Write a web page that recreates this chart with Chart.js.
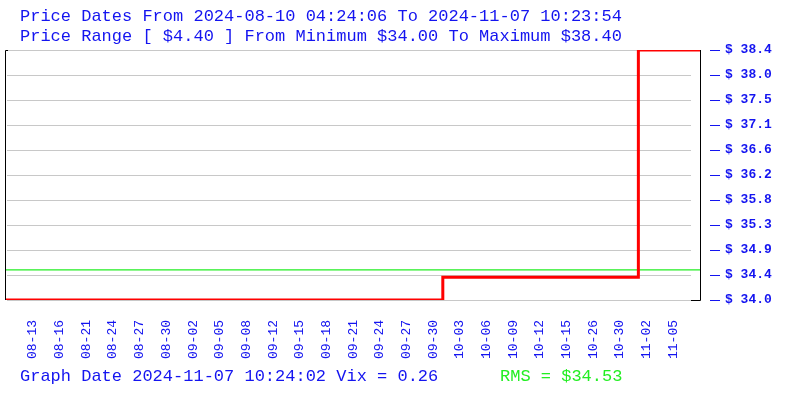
<!DOCTYPE html>
<html>
<head>
<meta charset="utf-8">
<script src="https://cdn.jsdelivr.net/npm/chart.js@4/dist/chart.umd.min.js"></script>
<style>
  html, body { margin: 0; padding: 0; background: #ffffff; }
  #wrap { position: relative; width: 800px; height: 400px; }
</style>
</head>
<body>
<div id="wrap"><canvas id="c" width="800" height="400"></canvas></div>
<script>
// ---- data ----
const titleLine1 = 'Price Dates From 2024-08-10 04:24:06 To 2024-11-07 10:23:54';
const titleLine2 = 'Price Range [ $4.40 ] From Minimum $34.00 To Maximum $38.40';
const footerLeft = 'Graph Date 2024-11-07 10:24:02 Vix = 0.26';
const footerRight = 'RMS = $34.53';

const xLabels = ['08-13','08-16','08-21','08-24','08-27','08-30','09-02','09-05','09-08',
  '09-12','09-15','09-18','09-21','09-24','09-27','09-30','10-03','10-06','10-09',
  '10-12','10-15','10-26','10-30','11-02','11-05'];
const xLabelPositions = [1,2,3,4,5,6,7,8,9,10,11,12,13,14,15,16,17,18,19,20,21,22,23,24,25];

// price steps (x in label-index units)
const priceX = [-0.05, 16.36, 23.69, 26];
const priceY = [34.00, 34.40, 38.40, 38.40];

const rmsValue = 34.53;
const yMin = 34.00;
const yMax = 38.40;
const yTickValues = [34.00, 34.44, 34.88, 35.32, 35.76, 36.20, 36.64, 37.08, 37.52, 37.96, 38.40];
const yTickLabels = ['$ 34.0','$ 34.4','$ 34.9','$ 35.3','$ 35.8','$ 36.2','$ 36.6','$ 37.1','$ 37.5','$ 38.0','$ 38.4'];

const BLUE = '#1414f0';
const GREEN = '#22ee22';
const MONO = '"Liberation Mono", "DejaVu Sans Mono", monospace';

const decor = {
  id: 'decor',
  beforeDatasetsDraw(chart) {
    const ctx = chart.ctx;
    const ys = chart.scales.y;
    const a = chart.chartArea;
    ctx.save();
    ctx.strokeStyle = '#c8c8c8';
    ctx.lineWidth = 1;
    yTickValues.forEach(v => {
      const py = Math.round(ys.getPixelForValue(v)) + 0.5;
      ctx.beginPath();
      ctx.moveTo(a.left + 2, py);
      ctx.lineTo(a.right - 9, py);
      ctx.stroke();
    });
    ctx.restore();
  },
  afterDraw(chart) {
    const ctx = chart.ctx;
    const ys = chart.scales.y;
    const a = chart.chartArea;
    ctx.save();
    // frame
    ctx.strokeStyle = '#000000';
    ctx.lineWidth = 1;
    ctx.beginPath();
    ctx.moveTo(a.left + 0.5, a.bottom);
    ctx.lineTo(a.left + 0.5, a.top + 0.5);
    ctx.lineTo(a.left + 3, a.top + 0.5);
    ctx.stroke();
    ctx.beginPath();
    ctx.moveTo(a.right - 9, a.bottom + 0.5);
    ctx.lineTo(a.right + 0.5, a.bottom + 0.5);
    ctx.lineTo(a.right + 0.5, a.top);
    ctx.stroke();
    // blue tick dashes
    ctx.strokeStyle = BLUE;
    yTickValues.forEach(v => {
      const py = Math.round(ys.getPixelForValue(v)) + 0.5;
      ctx.beginPath();
      ctx.moveTo(a.right + 10, py);
      ctx.lineTo(a.right + 20, py);
      ctx.stroke();
    });
    // texts
    ctx.textBaseline = 'alphabetic';
    ctx.textAlign = 'left';
    ctx.font = '17px ' + MONO;
    ctx.fillStyle = BLUE;
    ctx.fillText(titleLine1, 20, 21);
    ctx.fillText(titleLine2, 20, 41);
    ctx.fillText(footerLeft, 20, 381);
    ctx.fillStyle = GREEN;
    ctx.fillText(footerRight, 500, 381);
    ctx.restore();
  }
};

const pricePoints = priceX.map((x, i) => ({ x: x, y: priceY[i] }));

new Chart(document.getElementById('c'), {
  type: 'line',
  data: {
    datasets: [
      {
        label: 'Price',
        data: pricePoints,
        stepped: 'before',
        borderColor: '#ff0000',
        borderWidth: 3,
        pointRadius: 0,
        fill: false,
        tension: 0,
        order: 1
      },
      {
        label: 'RMS',
        data: [{ x: -0.05, y: rmsValue }, { x: 26, y: rmsValue }],
        borderColor: GREEN,
        borderWidth: 1.3,
        pointRadius: 0,
        fill: false,
        order: 2
      }
    ]
  },
  options: {
    responsive: false,
    animation: false,
    events: [],
    layout: { padding: { left: 5, top: 50, right: 0, bottom: 0 } },
    plugins: {
      legend: { display: false },
      title: { display: false },
      tooltip: { enabled: false }
    },
    scales: {
      x: {
        type: 'linear',
        min: -0.05,
        max: 26,
        grid: { display: false, drawTicks: false },
        border: { display: false },
        afterBuildTicks(scale) {
          scale.ticks = xLabelPositions.map(v => ({ value: v }));
        },
        afterFit(scale) { scale.height = 100; },
        ticks: {
          autoSkip: false,
          minRotation: 90,
          maxRotation: 90,
          padding: 20,
          color: BLUE,
          font: { family: MONO, size: 13 },
          callback(value, index) { return xLabels[index]; }
        }
      },
      y: {
        type: 'linear',
        position: 'right',
        min: yMin,
        max: yMax,
        grid: { display: false, drawTicks: false },
        border: { display: false },
        afterBuildTicks(scale) {
          scale.ticks = yTickValues.map(v => ({ value: v }));
        },
        afterFit(scale) { scale.width = 100; },
        ticks: {
          padding: 25,
          color: BLUE,
          font: { family: MONO, size: 13, weight: 'bold' },
          callback(value, index) { return yTickLabels[index]; }
        }
      }
    }
  },
  plugins: [decor]
});
</script>
</body>
</html>
